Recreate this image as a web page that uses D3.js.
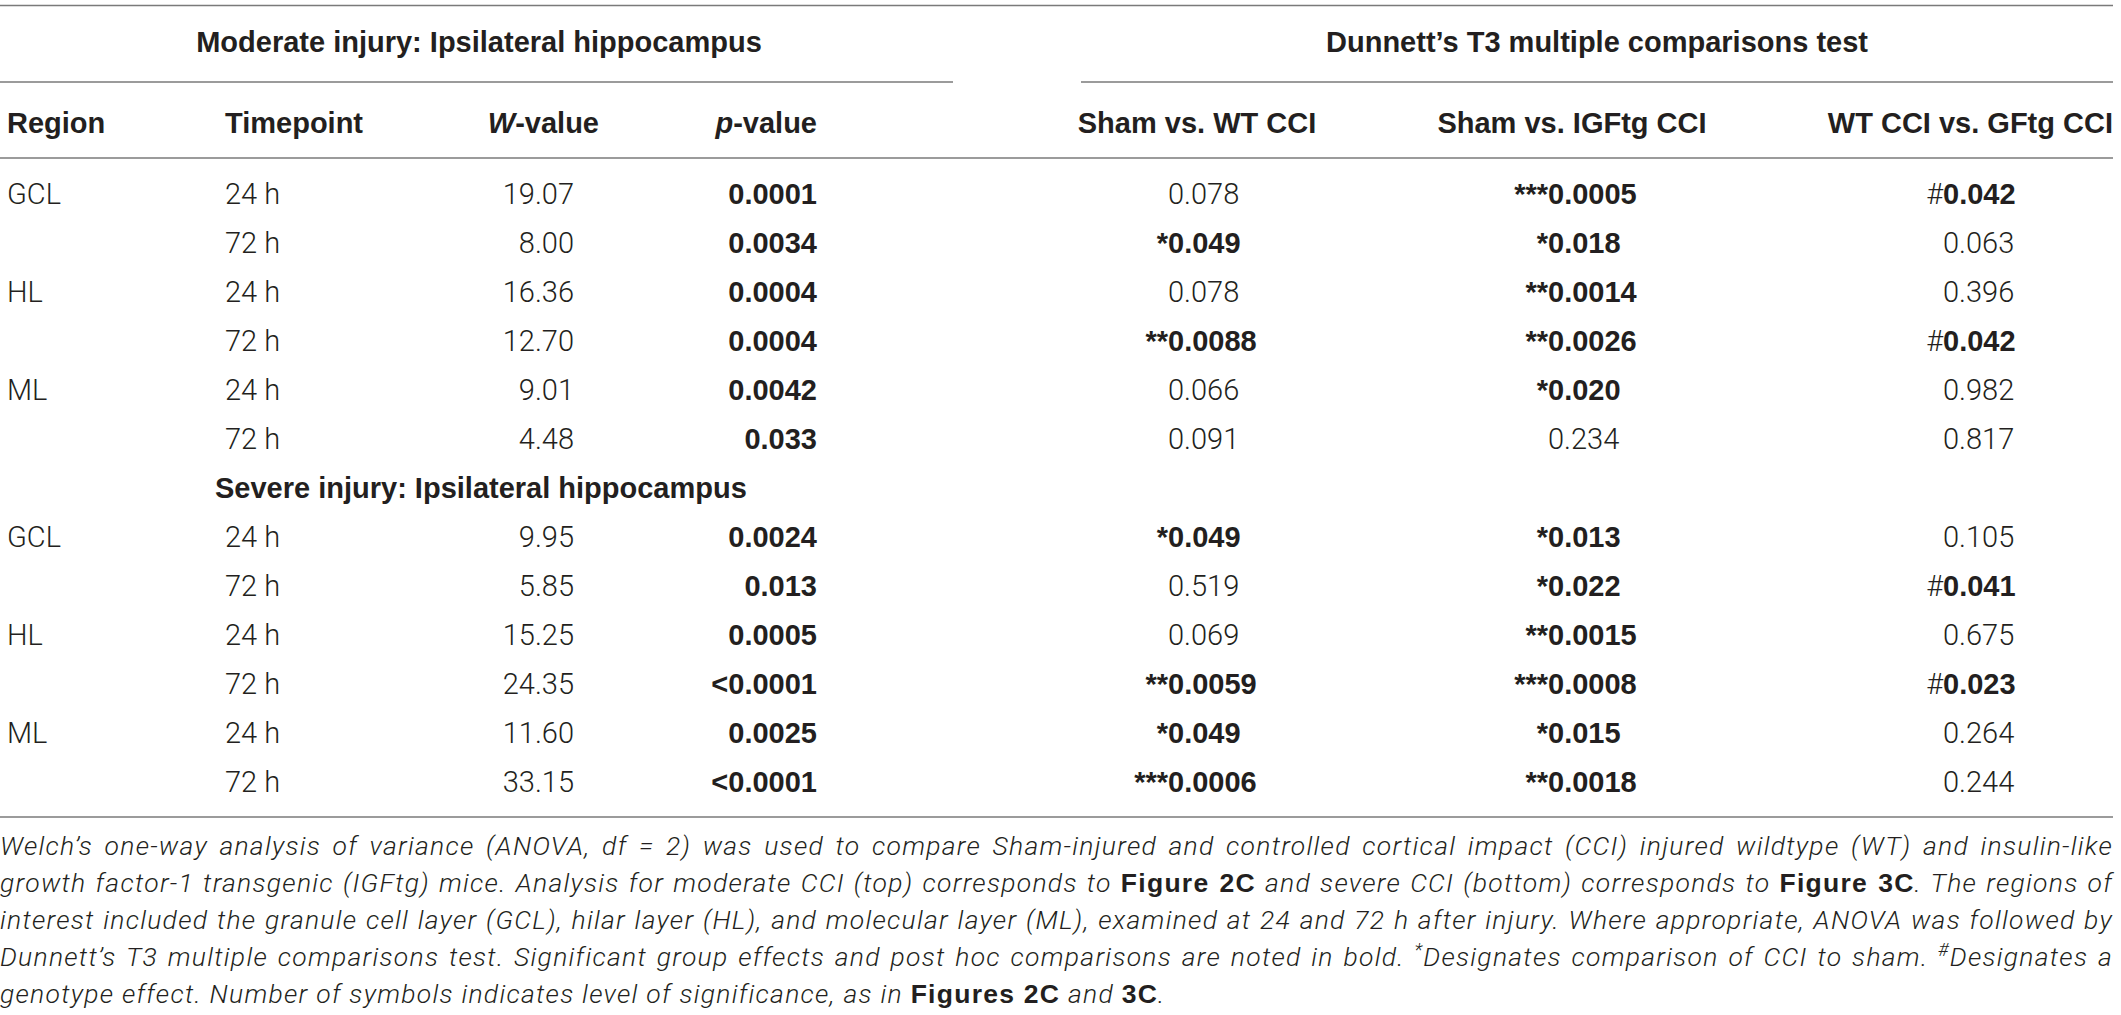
<!DOCTYPE html>
<html>
<head>
<meta charset="utf-8">
<script src="https://cdn.jsdelivr.net/npm/d3@7"></script>
<style>
  html, body { margin: 0; padding: 0; background: #fff; }
  svg { display: block; }
</style>
</head>
<body>
<svg id="table" width="2121" height="1015"></svg>
<script>
// ---- table contents ----
var groupTitles = ["Moderate injury: Ipsilateral hippocampus", "Dunnett’s T3 multiple comparisons test"];
var severeTitle = "Severe injury: Ipsilateral hippocampus";
var regions = ["GCL", "", "HL", "", "ML", ""];
var timepoints = ["24 h", "72 h", "24 h", "72 h", "24 h", "72 h"];

var moderateW = [19.07, 8.00, 16.36, 12.70, 9.01, 4.48];
var moderateP = ["0.0001", "0.0034", "0.0004", "0.0004", "0.0042", "0.033"];
var moderateShamWT = ["0.078", "*0.049", "0.078", "**0.0088", "0.066", "0.091"];
var moderateShamIGF = ["***0.0005", "*0.018", "**0.0014", "**0.0026", "*0.020", "0.234"];
var moderateWTvsIGF = ["#0.042", "0.063", "0.396", "#0.042", "0.982", "0.817"];

var severeW = [9.95, 5.85, 15.25, 24.35, 11.60, 33.15];
var severeP = ["0.0024", "0.013", "0.0005", "<0.0001", "0.0025", "<0.0001"];
var severeShamWT = ["*0.049", "0.519", "0.069", "**0.0059", "*0.049", "***0.0006"];
var severeShamIGF = ["*0.013", "*0.022", "**0.0015", "***0.0008", "*0.015", "**0.0018"];
var severeWTvsIGF = ["0.105", "#0.041", "0.675", "#0.023", "0.264", "0.244"];

// caption, one entry per printed line; segments are [text, style]
var captionLines = [
  [["Welch’s one-way analysis of variance (ANOVA, df = 2) was used to compare Sham-injured and controlled cortical impact (CCI) injured wildtype (WT) and insulin-like", "i"]],
  [["growth factor-1 transgenic (IGFtg) mice. Analysis for moderate CCI (top) corresponds to ", "i"], ["Figure 2C", "b"],
   [" and severe CCI (bottom) corresponds to ", "i"], ["Figure 3C", "b"], [". The regions of", "i"]],
  [["interest included the granule cell layer (GCL), hilar layer (HL), and molecular layer (ML), examined at 24 and 72 h after injury. Where appropriate, ANOVA was followed by", "i"]],
  [["Dunnett’s T3 multiple comparisons test. Significant group effects and post hoc comparisons are noted in bold. ", "i"], ["*", "sup"],
   ["Designates comparison of CCI to sham. ", "i"], ["#", "sup"], ["Designates a", "i"]],
  [["genotype effect. Number of symbols indicates level of significance, as in ", "i"], ["Figures 2C", "b"], [" and ", "i"], ["3C", "b"], [".", "i"]]
];

// ---- look ----
var ink = "#231f20";
var ruleColor = "#7a7a7a";
var boldFont = "'Liberation Sans', Arial, sans-serif";
var lightFont = "Roboto, 'Liberation Sans', sans-serif";
var fontSize = 29;
var tableRight = 2113;

var svg = d3.select("#table");

// rows: 6 moderate, 1 sub-title, 6 severe
var rows = [];
function addBlock(w, p, d1, d2, d3) {
  for (var i = 0; i < w.length; i++) {
    rows.push({region: regions[i], time: timepoints[i], w: w[i], p: p[i], d: [d1[i], d2[i], d3[i]]});
  }
}
addBlock(moderateW, moderateP, moderateShamWT, moderateShamIGF, moderateWTvsIGF);
rows.push({title: severeTitle});
addBlock(severeW, severeP, severeShamWT, severeShamIGF, severeWTvsIGF);

var y = d3.scaleLinear().domain([0, rows.length - 1]).range([204, 792]);
var fmtW = d3.format(".2f");

// ---- rules ----
var rules = [
  {x1: 0, x2: tableRight, y: 5.5},
  {x1: 0, x2: 953, y: 82},
  {x1: 1081, x2: tableRight, y: 82},
  {x1: 0, x2: tableRight, y: 158},
  {x1: 0, x2: tableRight, y: 817}
];
svg.selectAll("line.rule")
  .data(rules)
  .enter().append("line")
  .attr("class", "rule")
  .attr("x1", function(d) { return d.x1; })
  .attr("x2", function(d) { return d.x2; })
  .attr("y1", function(d) { return d.y; })
  .attr("y2", function(d) { return d.y; })
  .attr("stroke", ruleColor)
  .attr("stroke-width", 1.6);

// ---- group titles ----
svg.selectAll("text.group")
  .data(groupTitles)
  .enter().append("text")
  .attr("class", "group")
  .attr("x", function(d, i) { return i === 0 ? 479 : 1597; })
  .attr("y", 52)
  .attr("text-anchor", "middle")
  .attr("font-family", boldFont)
  .attr("font-weight", "bold")
  .attr("font-size", fontSize)
  .attr("fill", ink)
  .text(function(d) { return d; });

// ---- column headers ----
var headers = [
  {parts: [["Region", ""]], x: 7, anchor: "start"},
  {parts: [["Timepoint", ""]], x: 225, anchor: "start"},
  {parts: [["W", "italic"], ["-value", ""]], x: 599, anchor: "end"},
  {parts: [["p", "italic"], ["-value", ""]], x: 817, anchor: "end"},
  {parts: [["Sham vs. WT CCI", ""]], x: 1197, anchor: "middle"},
  {parts: [["Sham vs. IGFtg CCI", ""]], x: 1572, anchor: "middle"},
  {parts: [["WT CCI vs. GFtg CCI", ""]], x: tableRight, anchor: "end"}
];
var head = svg.selectAll("text.head")
  .data(headers)
  .enter().append("text")
  .attr("class", "head")
  .attr("x", function(d) { return d.x; })
  .attr("y", 133)
  .attr("text-anchor", function(d) { return d.anchor; })
  .attr("font-family", boldFont)
  .attr("font-weight", "bold")
  .attr("font-size", fontSize)
  .attr("fill", ink);
head.selectAll("tspan")
  .data(function(d) { return d.parts; })
  .enter().append("tspan")
  .attr("font-style", function(d) { return d[1] || null; })
  .text(function(d) { return d[0]; });

// ---- body ----
function lightText(sel) {
  return sel.attr("font-family", lightFont).attr("font-weight", 300)
    .attr("font-size", fontSize).attr("fill", ink);
}
function boldText(sel) {
  return sel.attr("font-family", boldFont).attr("font-weight", "bold")
    .attr("font-size", fontSize).attr("fill", ink);
}

var row = svg.selectAll("g.row")
  .data(rows)
  .enter().append("g")
  .attr("class", "row")
  .attr("transform", function(d, i) { return "translate(0," + y(i) + ")"; });

row.filter(function(d) { return d.title; })
  .append("text")
  .attr("x", 215)
  .call(boldText)
  .text(function(d) { return d.title; });

var dataRow = row.filter(function(d) { return !d.title; });

dataRow.append("text").attr("x", 7).call(lightText).text(function(d) { return d.region; });
dataRow.append("text").attr("x", 225).call(lightText).text(function(d) { return d.time; });
dataRow.append("text").attr("x", 574).attr("text-anchor", "end").call(lightText)
  .text(function(d) { return fmtW(d.w); });
dataRow.append("text").attr("x", 817).attr("text-anchor", "end").call(boldText)
  .text(function(d) { return d.p; });

// Dunnett columns: number starts at the column line, symbols hang to its left
var dunnettX = [1168, 1548, 1943];
dunnettX.forEach(function(cx, k) {
  dataRow.each(function(d) {
    var m = /^([*#]*)(.*)$/.exec(d.d[k]);
    var g = d3.select(this);
    var sig = m[1].length > 0;
    if (sig) {
      g.append("text").attr("x", cx).attr("text-anchor", "end")
        .call(m[1][0] === "#" ? lightText : boldText)
        .text(m[1]);
    }
    g.append("text").attr("x", cx)
      .call(sig ? boldText : lightText)
      .text(m[2]);
  });
});

// ---- caption (justified like the printed page) ----
var capY = d3.scaleLinear().domain([0, captionLines.length - 1]).range([855, 1003]);
var capSize = 26.5;
var lastLineWidth = 1165;

function drawCaptionLine(line, i) {
  var t = svg.append("text")
    .attr("x", 0)
    .attr("y", capY(i))
    .attr("font-size", capSize)
    .attr("fill", ink);
  var lifted = false;
  line.forEach(function(seg) {
    var ts = t.append("tspan").text(seg[0]);
    if (seg[1] === "b") {
      ts.attr("font-family", boldFont).attr("font-weight", "bold");
    } else {
      ts.attr("font-family", lightFont).attr("font-weight", 300).attr("font-style", "italic");
    }
    if (seg[1] === "sup") {
      ts.attr("font-size", capSize * 0.7).attr("dy", -10);
      lifted = true;
    } else if (lifted) {
      ts.attr("dy", 10);
      lifted = false;
    }
  });
  return t;
}

var texts = captionLines.map(drawCaptionLine);
// widen tracking so the unjustified last line runs as far as in print
var last = texts[texts.length - 1];
var lastChars = last.text().length;
var tracking = (lastLineWidth - last.node().getComputedTextLength()) / lastChars;
texts.forEach(function(t, i) {
  t.style("letter-spacing", tracking + "px");
  if (i < texts.length - 1) {
    var natural = t.node().getComputedTextLength();
    var spaces = t.text().split(" ").length - 1;
    t.style("word-spacing", ((tableRight - natural) / spaces) + "px");
  }
});
</script>
</body>
</html>
